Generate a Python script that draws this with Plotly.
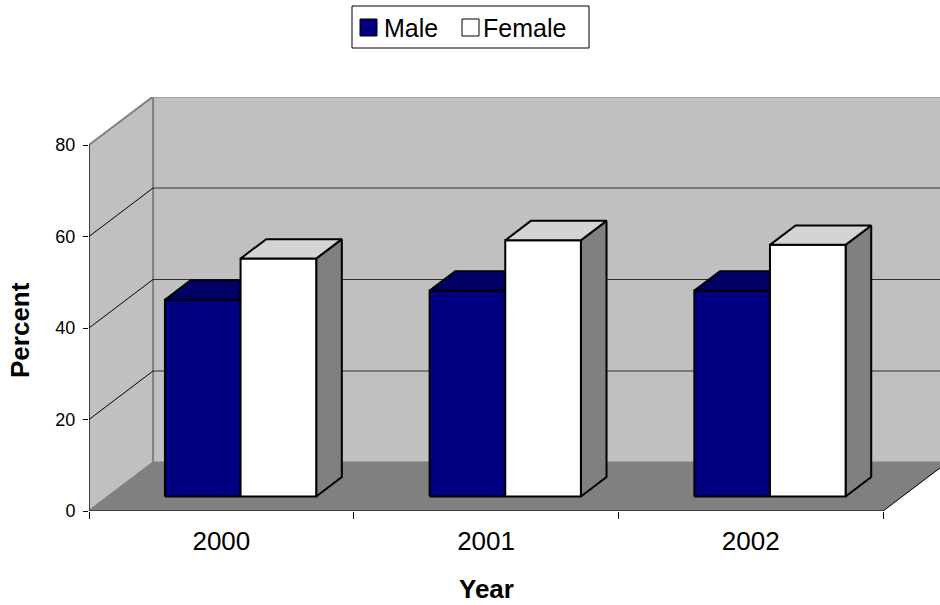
import plotly.graph_objects as go

# Data
years = ["2000", "2001", "2002"]
male = [43, 45, 45]
female = [52, 56, 55]
y_ticks = [0, 20, 40, 60, 80]

# 3D look (in axis units)
DX = 0.242      # depth shift along x (category units)
DY = 10.6       # depth shift along y (percent units)
F1, F2 = 0.3, 0.7   # bar front / back position inside the depth
GAP = 1.5           # Excel gap width 150%
BAR_W = 1 / (2 + GAP)
Y_MAX = 80

W, H = 940, 605
L, R, T, B = 89, 0, 97, 94
PLOT_W, PLOT_H = W - L - R, H - T - B
CAT_PX = 264.7
Y_PX = 4.575

FONT = "Arial, Liberation Sans, sans-serif"


def px_x(px):
    return (px - L) / PLOT_W


def px_y(py):
    return (H - B - py) / PLOT_H


def poly_trace(polys, fill, line_color="black", width=2):
    xs, ys = [], []
    for p in polys:
        for x, y in p + [p[0]]:
            xs.append(x)
            ys.append(y)
        xs.append(None)
        ys.append(None)
    return go.Scatter(x=xs, y=ys, mode="lines", fill="toself", fillcolor=fill,
                      line=dict(color=line_color, width=width),
                      hoverinfo="skip", showlegend=False)


def line_trace(xs, ys, color="black", width=1):
    return go.Scatter(x=xs, y=ys, mode="lines", line=dict(color=color, width=width),
                      hoverinfo="skip", showlegend=False)


def box(x0, v):
    x1 = x0 + BAR_W
    fx, fy = F1 * DX, F1 * DY
    bx, by = F2 * DX, F2 * DY
    front = [(x0 + fx, fy), (x1 + fx, fy), (x1 + fx, v + fy), (x0 + fx, v + fy)]
    top = [(x0 + fx, v + fy), (x1 + fx, v + fy), (x1 + bx, v + by), (x0 + bx, v + by)]
    side = [(x1 + fx, fy), (x1 + bx, by), (x1 + bx, v + by), (x1 + fx, v + fy)]
    return front, top, side


n = len(years)
fig = go.Figure()

# walls
wall_gray = "#C0C0C0"
edge_gray = "#808080"
fig.add_trace(poly_trace([[(DX, DY), (n + DX + 1, DY), (n + DX + 1, Y_MAX + DY), (DX, Y_MAX + DY)]],
                         wall_gray, edge_gray, 2))
fig.add_trace(poly_trace([[(0, 0), (0, Y_MAX), (DX, Y_MAX + DY), (DX, DY)]],
                         wall_gray, edge_gray, 2))

# gridlines on back and side walls
for v in y_ticks[1:-1]:
    fig.add_trace(line_trace([DX, n + DX + 1], [v + DY, v + DY], "#303030", 1))
    fig.add_trace(line_trace([0, DX], [v, v + DY], "black", 1))

# floor
fig.add_trace(poly_trace([[(0, 0), (n, 0), (n + DX, DY), (DX, DY)]], edge_gray, edge_gray, 0.5))

# bars
m_front, m_top, m_side, f_front, f_top, f_side = [], [], [], [], [], []
for i in range(n):
    x0 = i + GAP / 2 * BAR_W
    a, b, c = box(x0, male[i])
    m_front.append(a); m_top.append(b); m_side.append(c)
    a, b, c = box(x0 + BAR_W, female[i])
    f_front.append(a); f_top.append(b); f_side.append(c)

fig.add_trace(poly_trace(m_side, "#000040"))
fig.add_trace(poly_trace(m_front, "#000080"))
fig.add_trace(poly_trace(m_top, "#000066"))
fig.add_trace(poly_trace(f_side, "#808080"))
fig.add_trace(poly_trace(f_front, "#FFFFFF"))
fig.add_trace(poly_trace(f_top, "#D4D4D4"))

# front axis lines
fig.add_trace(line_trace([0, 0], [0, Y_MAX], "black", 1))
fig.add_trace(line_trace([0, n, n + DX], [0, 0, DY], "black", 1))

# legend (drawn by hand to match Excel box)
shapes = [
    dict(type="rect", xref="paper", yref="paper", x0=px_x(352), x1=px_x(589),
         y0=px_y(48), y1=px_y(6), line=dict(color="black", width=1), fillcolor="white"),
    dict(type="rect", xref="paper", yref="paper", x0=px_x(360), x1=px_x(377),
         y0=px_y(36), y1=px_y(19), line=dict(color="black", width=1), fillcolor="#000080"),
    dict(type="rect", xref="paper", yref="paper", x0=px_x(462), x1=px_x(479),
         y0=px_y(36), y1=px_y(19), line=dict(color="black", width=1), fillcolor="white"),
]
annotations = [
    dict(text="Male", xref="paper", yref="paper", x=px_x(382), y=px_y(28),
         xanchor="left", yanchor="middle", showarrow=False,
         font=dict(family=FONT, size=25, color="black")),
    dict(text="Female", xref="paper", yref="paper", x=px_x(481), y=px_y(28),
         xanchor="left", yanchor="middle", showarrow=False,
         font=dict(family=FONT, size=25, color="black")),
    dict(text="<b>Year</b>", xref="x", yref="paper", x=n / 2, y=px_y(589),
         xanchor="center", yanchor="middle", showarrow=False,
         font=dict(family=FONT, size=26, color="black")),
    dict(text="<b>Percent</b>", xref="paper", yref="paper", x=px_x(20), y=px_y(330),
         xanchor="center", yanchor="middle", textangle=-90, showarrow=False,
         font=dict(family=FONT, size=26, color="black")),
]

fig.update_layout(
    width=W, height=H,
    margin=dict(l=L, r=R, t=T, b=B),
    paper_bgcolor="white",
    plot_bgcolor="white",
    showlegend=False,
    shapes=shapes,
    annotations=annotations,
    xaxis=dict(
        range=[0, PLOT_W / CAT_PX],
        tickvals=[i + 0.5 for i in range(n)],
        ticktext=years,
        ticks="outside", ticklen=7, tickcolor="rgba(0,0,0,0)",
        tickfont=dict(family=FONT, size=26, color="black"),
        minor=dict(tickvals=list(range(n + 1)), ticks="outside", ticklen=7,
                   tickcolor="black", showgrid=False),
        showgrid=False, zeroline=False, showline=False, fixedrange=True,
    ),
    yaxis=dict(
        range=[0, PLOT_H / Y_PX],
        tickvals=y_ticks,
        ticks="outside", ticklen=5, tickcolor="black",
        ticklabelstandoff=4,
        tickfont=dict(family=FONT, size=18, color="black"),
        showgrid=False, zeroline=False, showline=False, fixedrange=True,
    ),
)

fig.write_html("out.html", config={"displayModeBar": False},
               post_script="document.body.style.margin='0px';")
